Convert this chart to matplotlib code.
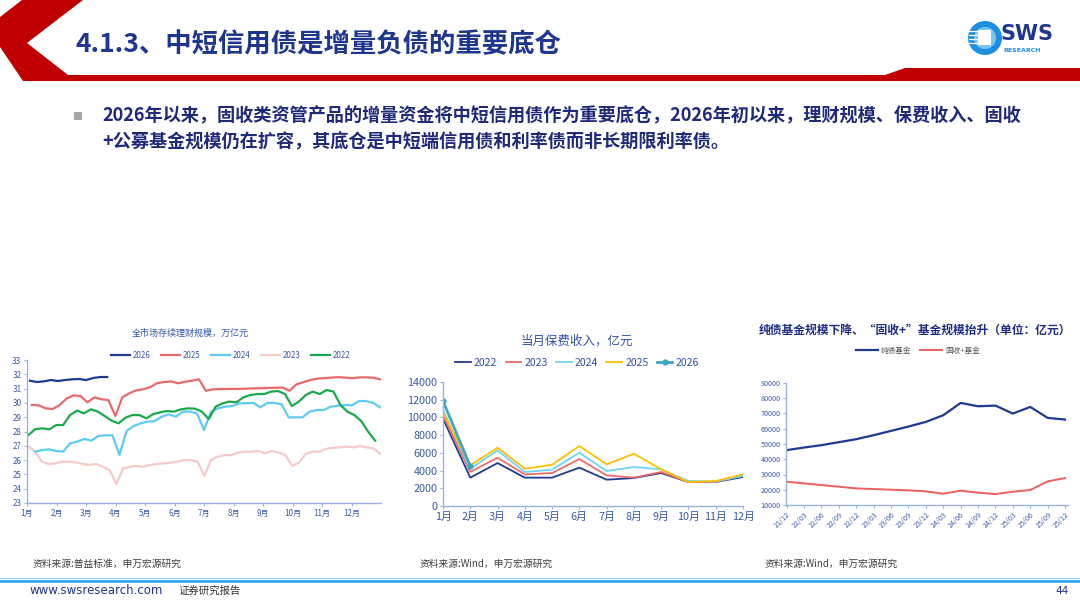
import numpy as np
import matplotlib
matplotlib.use("Agg")
import matplotlib.pyplot as plt
from matplotlib.patches import Polygon, Circle, Rectangle

plt.rcParams['font.family'] = ['Noto Sans CJK SC', 'DejaVu Sans']

# ---------------- data ----------------
months_cn = ['1月', '2月', '3月', '4月', '5月', '6月', '7月', '8月', '9月', '10月', '11月', '12月']

# chart 1: 全市场存续理财规模 (万亿元), weekly points, x in months
wm_2026 = [31.55, 31.46, 31.51, 31.60, 31.53, 31.60, 31.65, 31.67, 31.60, 31.74, 31.81, 31.81]
wm_2025 = [29.85, 29.83, 29.62, 29.57, 29.85, 30.30, 30.53, 30.48, 30.04, 30.39, 30.25, 30.20,
           29.08, 30.39, 30.67, 30.88, 30.95, 31.10, 31.38, 31.46, 31.50, 31.37, 31.48, 31.55,
           31.65, 30.85, 30.95, 30.97, 30.97, 30.98, 30.98, 31.00, 31.02, 31.03, 31.05, 31.06,
           31.07, 30.85, 31.30, 31.45, 31.60, 31.70, 31.73, 31.77, 31.80, 31.77, 31.73, 31.78,
           31.79, 31.76, 31.65]
wm_2024 = [26.59, 26.70, 26.75, 26.64, 26.59, 27.17, 27.29, 27.48, 27.36, 27.69, 27.73, 27.73,
           26.36, 28.03, 28.38, 28.57, 28.69, 28.73, 29.04, 29.20, 29.04, 29.39, 29.39, 29.27,
           28.10, 29.39, 29.62, 29.74, 29.78, 29.97, 29.97, 30.00, 29.69, 30.00, 30.00, 29.90,
           28.99, 28.99, 28.99, 29.39, 29.50, 29.50, 29.74, 29.80, 29.85, 29.83, 30.13, 30.13,
           30.00, 29.69]
wm_2023 = [26.94, 26.59, 25.89, 25.73, 25.77, 25.89, 25.89, 25.84, 25.73, 25.66, 25.73, 25.54,
           25.30, 24.33, 25.42, 25.54, 25.59, 25.54, 25.66, 25.73, 25.77, 25.82, 25.89, 26.00,
           26.00, 25.89, 24.89, 26.00, 26.24, 26.35, 26.35, 26.52, 26.59, 26.59, 26.64, 26.47,
           26.64, 26.52, 26.35, 25.59, 25.82, 26.43, 26.59, 26.59, 26.78, 26.87, 26.89, 26.94,
           26.89, 26.99, 26.89, 26.82, 26.43]
wm_2022 = [27.76, 28.17, 28.22, 28.15, 28.45, 28.45, 29.15, 29.46, 29.27, 29.55, 29.39, 29.08,
           28.76, 28.57, 28.97, 29.15, 29.15, 28.92, 29.22, 29.34, 29.43, 29.39, 29.55, 29.62,
           29.60, 29.39, 28.87, 29.74, 29.97, 30.09, 30.04, 30.39, 30.55, 30.62, 30.62, 30.79,
           30.83, 30.62, 29.78, 30.09, 30.55, 30.79, 30.62, 30.90, 30.79, 29.85, 29.39, 29.15,
           28.73, 27.99, 27.36]
# first / last month position of each weekly series
wm_span = {'2026': (0.10, 2.72), '2025': (0.16, 11.97), '2024': (0.27, 11.97),
           '2023': (0.05, 11.97), '2022': (0.05, 11.80)}

# chart 2: 当月保费收入 (亿元)
prem_2022 = [9860, 3200, 4850, 3200, 3200, 4330, 2970, 3160, 3720, 2710, 2710, 3270]
prem_2023 = [10230, 3840, 5450, 3570, 3720, 5300, 3460, 3200, 3840, 2710, 2710, 3460]
prem_2024 = [10800, 4210, 6280, 3840, 4100, 6020, 3950, 4400, 4140, 2820, 2780, 3390]
prem_2025 = [10540, 4590, 6580, 4210, 4660, 6770, 4700, 5900, 4140, 2710, 2820, 3570]
prem_2026 = [11850, 4510]

# chart 3: 纯债基金 / 固收+基金 (亿元)
quarters = ['21/12', '22/03', '22/06', '22/09', '22/12', '23/03', '23/06', '23/09', '23/12',
            '24/03', '24/06', '24/09', '24/12', '25/03', '25/06', '25/09', '25/12']
pure_bond = [45970, 47700, 49240, 51200, 53160, 55780, 58610, 61450, 64500,
             68860, 76930, 74750, 75180, 69950, 74310, 67120, 66030]
fixed_plus = [25260, 24170, 23080, 21990, 20900, 20460, 20030, 19590, 18940,
              17410, 19370, 18070, 17190, 18720, 19810, 25480, 27660]

# ---------------- figure ----------------
W, H = 1080, 608
fig = plt.figure(figsize=(W / 100, H / 100), dpi=100)

bg = fig.add_axes([0, 0, 1, 1])
bg.set_xlim(0, W)
bg.set_ylim(H, 0)
bg.axis('off')


def px_axes(x0, y0, x1, y1):
    return fig.add_axes([x0 / W, 1 - y1 / H, (x1 - x0) / W, (y1 - y0) / H])


navy = '#1F3690'
red = '#C00000'
tick_blue = '#3B5BA5'
spine_blue = '#9DB3DF'

# header shapes
bg.add_patch(Polygon([(22, 0), (83, 0), (27, 43), (68, 75), (885, 75), (905, 68), (1080, 68),
                      (1080, 81), (23, 81), (0, 47), (0, 17)], closed=True, color=red, lw=0))
bg.text(75, 45, '4.1.3、中短信用债是增量负债的重要底仓', fontsize=19, fontweight='bold',
        color=navy, va='center', ha='left')

# logo
bg.add_patch(Circle((985, 38), 17, color='#1C8FE3', lw=0))
bg.add_patch(Circle((985, 38), 11, color='#7CC4F2', lw=0))
bg.add_patch(Rectangle((978, 30), 13, 15, color='white', lw=0))
for yy in (31, 35, 39, 43):
    bg.plot([969, 979], [yy, yy], color='white', lw=0.9)
bg.text(1001, 34, 'SWS', fontsize=15, fontweight='bold', color=navy, va='center', ha='left',
        family='DejaVu Sans')
bg.text(1003, 50, 'RESEARCH', fontsize=4.5, fontweight='bold', color='#1C8FE3', va='center',
        ha='left', family='DejaVu Sans')

# bullet text
bg.add_patch(Rectangle((74, 112), 8, 8, color='#A6A6A6', lw=0))
body = '#1F2A7A'
bg.text(102, 116, '2026年以来，固收类资管产品的增量资金将中短信用债作为重要底仓，2026年初以来，理财规模、保费收入、固收',
        fontsize=13.1, fontweight='bold', color=body, va='center', ha='left')
bg.text(102, 142, '+公募基金规模仍在扩容，其底仓是中短端信用债和利率债而非长期限利率债。',
        fontsize=13.1, fontweight='bold', color=body, va='center', ha='left')


def style_axes(ax, fs):
    for s in ('top', 'right'):
        ax.spines[s].set_visible(False)
    for s in ('left', 'bottom'):
        ax.spines[s].set_color(spine_blue)
        ax.spines[s].set_linewidth(1.0)
    ax.tick_params(colors=spine_blue, labelcolor=tick_blue, labelsize=fs, length=2, width=0.8, pad=2)
    ax.set_facecolor('none')


# ---------------- chart 1 ----------------
ax1 = px_axes(27, 360, 381, 503)
c1 = {'2026': '#1F3A93', '2025': '#E86A6A', '2024': '#5CCBF5', '2023': '#F7CACA', '2022': '#1BAA4B'}
series1 = {'2026': wm_2026, '2025': wm_2025, '2024': wm_2024, '2023': wm_2023, '2022': wm_2022}
for k in ['2023', '2024', '2022', '2025', '2026']:
    vals = series1[k]
    x = np.linspace(wm_span[k][0], wm_span[k][1], len(vals))
    ax1.plot(x, vals, color=c1[k], lw=1.6, label=k)
ax1.set_xlim(0, 12)
ax1.set_ylim(23, 33)
ax1.set_yticks(range(23, 34))
ax1.set_xticks(range(12))
ax1.set_xticklabels(months_cn)
style_axes(ax1, 5.8)
h1, l1 = ax1.get_legend_handles_labels()
order = ['2026', '2025', '2024', '2023', '2022']
hs = [h1[l1.index(k)] for k in order]
fig.legend(hs, order, loc='center', bbox_to_anchor=(231 / W, 1 - 355 / H), ncol=5, frameon=False,
           fontsize=5.8, labelcolor=tick_blue, handlelength=2.3, columnspacing=1.3, handletextpad=0.4)
bg.text(190, 333, '全市场存续理财规模，万亿元', fontsize=6.5, color='#3355AA', ha='center', va='center')

# ---------------- chart 2 ----------------
ax2 = px_axes(443, 382, 743, 506)
mx = np.arange(12)
ax2.plot(mx, prem_2022, color='#1F3A93', lw=1.3, label='2022')
ax2.plot(mx, prem_2023, color='#EE6B6B', lw=1.3, label='2023')
ax2.plot(mx, prem_2024, color='#6DD5FA', lw=1.3, label='2024')
ax2.plot(mx, prem_2025, color='#FFC000', lw=1.3, label='2025')
ax2.plot(mx[:len(prem_2026)], prem_2026, color='#3FA7C0', lw=2.0, marker='o', ms=3.5, label='2026')
ax2.set_xlim(0, 11)
ax2.set_ylim(0, 14000)
ax2.set_yticks(range(0, 14001, 2000))
ax2.set_xticks(mx)
ax2.set_xticklabels(months_cn)
style_axes(ax2, 7.8)
ax2.legend(loc='center', bbox_to_anchor=(577 / W, 1 - 363 / H), bbox_transform=fig.transFigure,
           ncol=5, frameon=False, fontsize=7.5, labelcolor='#2F4FA0', handlelength=1.5,
           columnspacing=0.8, handletextpad=0.3)
bg.text(577, 341, '当月保费收入，亿元', fontsize=9, color='#3355AA', ha='center', va='center')

# ---------------- chart 3 ----------------
ax3 = px_axes(786, 383, 1068, 505)
qx = np.arange(len(quarters))
ax3.plot(qx, pure_bond, color='#1F3A93', lw=1.6, label='纯债基金')
ax3.plot(qx, fixed_plus, color='#EE5F5F', lw=1.4, label='固收+基金')
ax3.set_xlim(-0.04, 16.17)
ax3.set_ylim(10000, 90000)
ax3.set_yticks(range(10000, 90001, 10000))
ax3.set_xticks(qx)
ax3.set_xticklabels(quarters, rotation=45, ha='right', rotation_mode='anchor')
style_axes(ax3, 5.2)
ax3.legend(loc='center', bbox_to_anchor=(918 / W, 1 - 351 / H), bbox_transform=fig.transFigure,
           ncol=2, frameon=False, fontsize=5.5, labelcolor='#555555', handlelength=2.8,
           columnspacing=1.2, handletextpad=0.4)
bg.text(915, 330, '纯债基金规模下降、“固收+”基金规模抬升（单位：亿元）', fontsize=8.5, fontweight='bold',
        color='#1F2D86', ha='center', va='center')

# sources
src_c = '#404040'
bg.text(33, 564, '资料来源:普益标准，申万宏源研究', fontsize=7, color=src_c, va='center')
bg.text(420, 564, '资料来源:Wind，申万宏源研究', fontsize=7, color=src_c, va='center')
bg.text(765, 564, '资料来源:Wind，申万宏源研究', fontsize=7, color=src_c, va='center')

# footer
bg.plot([0, W], [578, 578], color='#8FD3F5', lw=0.8)
bg.plot([0, W], [580.5, 580.5], color='#1AA3E8', lw=1.8)
bg.text(30, 591, 'www.swsresearch.com', fontsize=8.5, color=navy, va='center', family='DejaVu Sans')
bg.text(178, 591, '证券研究报告', fontsize=7.5, color='#333333', va='center')
bg.text(1062, 591, '44', fontsize=7.5, color=navy, va='center', ha='center', family='DejaVu Sans')

fig.savefig('out.png', dpi=100)
